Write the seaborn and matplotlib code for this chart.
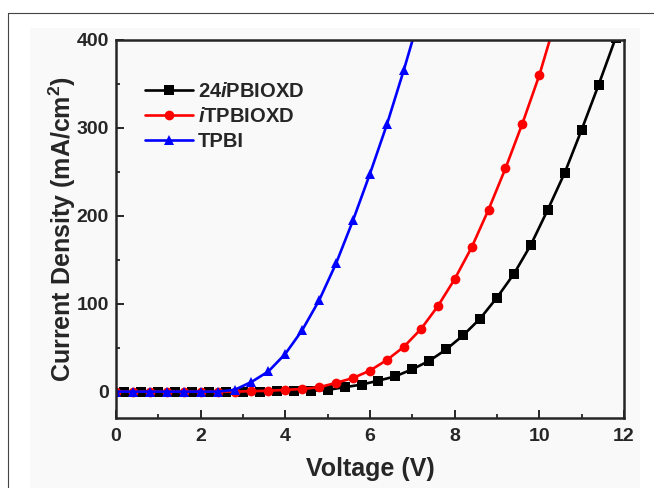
import numpy as np
import pandas as pd
import seaborn as sns
import matplotlib.pyplot as plt
from matplotlib.patches import Rectangle
from matplotlib.lines import Line2D
from matplotlib.ticker import MultipleLocator

# values
v_black = [0.2, 0.6, 1.0, 1.4, 1.8, 2.2, 2.6, 3.0, 3.4, 3.8, 4.2, 4.6, 5.0, 5.4, 5.8,
           6.2, 6.6, 7.0, 7.4, 7.8, 8.2, 8.6, 9.0, 9.4, 9.8, 10.2, 10.6, 11.0, 11.4, 11.8]
j_black = [0, 0, 0, 0, 0, 0, 0, 0, 0, 0.2, 0.5, 1, 2, 5, 8,
           12.5, 17.4, 25.5, 35, 48, 64, 83, 107, 134, 167, 207, 249, 298, 349, 402]

v_red = [0.0, 0.4, 0.8, 1.2, 1.6, 2.0, 2.4, 2.8, 3.2, 3.6, 4.0, 4.4, 4.8, 5.2, 5.6,
         6.0, 6.4, 6.8, 7.2, 7.6, 8.0, 8.4, 8.8, 9.2, 9.6, 10.0, 10.4]
j_red = [0, 0, 0, 0, 0, 0, 0, 0, 0.5, 1, 2, 3, 5, 10, 15.5,
         24, 36, 51, 71, 97, 128, 164, 207, 254, 305, 360, 425]

v_blue = [0.0, 0.4, 0.8, 1.2, 1.6, 2.0, 2.4, 2.8, 3.2, 3.6, 4.0, 4.4, 4.8, 5.2, 5.6,
          6.0, 6.4, 6.8, 7.2]
j_blue = [0, 0, 0, 0, 0, 0, 0, 2, 11, 23, 43, 70, 104, 146, 195,
          248, 304, 366, 432]

names = ["24iPBIOXD", "iTPBIOXD", "TPBI"]
labels = [r"24$\mathit{i}$PBIOXD", r"$\mathit{i}$TPBIOXD", "TPBI"]
colors = ["black", "red", "blue"]
markers = ["s", "o", "^"]

df = pd.concat([
    pd.DataFrame({"V": v_black, "J": j_black, "device": names[0]}),
    pd.DataFrame({"V": v_red, "J": j_red, "device": names[1]}),
    pd.DataFrame({"V": v_blue, "J": j_blue, "device": names[2]}),
])

sns.set_style("ticks")
plt.rcParams["font.family"] = ["Liberation Sans", "DejaVu Sans"]
plt.rcParams["font.weight"] = "bold"
plt.rcParams["mathtext.fontset"] = "custom"
plt.rcParams["mathtext.rm"] = "Liberation Sans:bold"
plt.rcParams["mathtext.it"] = "Liberation Sans:bold:italic"
plt.rcParams["mathtext.bf"] = "Liberation Sans:bold"

fig = plt.figure(figsize=(6.54, 4.88), dpi=100, facecolor="white")
# light panel and thin frame like the screenshot
fig.patches.append(Rectangle((30 / 654, 0), 610 / 654, 1 - 28 / 488, transform=fig.transFigure,
                             facecolor="#f9f9f9", edgecolor="none", zorder=-5))
fig.lines.append(Line2D([8 / 654, 8 / 654], [0, 1 - 13 / 488], transform=fig.transFigure,
                        color="#444444", lw=0.8))
fig.lines.append(Line2D([8 / 654, 1], [1 - 13 / 488, 1 - 13 / 488], transform=fig.transFigure,
                        color="#444444", lw=0.8))

ax = fig.add_axes([116 / 654, 1 - 418 / 488, 508 / 654, 378 / 488])
ax.set_facecolor("#f9f9f9")

sns.lineplot(data=df, x="V", y="J", hue="device", style="device", hue_order=names,
             style_order=names, palette=colors, markers=markers, dashes=False,
             markersize=7, markeredgewidth=0, linewidth=1.9, sort=True, ax=ax)

ax.set_xlim(0, 12)
ax.set_ylim(-30, 400)
ax.xaxis.set_major_locator(MultipleLocator(2))
ax.xaxis.set_minor_locator(MultipleLocator(1))
ax.yaxis.set_major_locator(MultipleLocator(100))
ax.yaxis.set_minor_locator(MultipleLocator(50))
ax.tick_params(which="major", direction="in", length=6, width=1.4, labelsize=14, pad=7)
ax.tick_params(axis="y", which="major", pad=5)
ax.tick_params(which="minor", direction="in", length=3, width=1.3)
for lab in ax.get_xticklabels() + ax.get_yticklabels():
    lab.set_fontweight("bold")
for sp in ax.spines.values():
    sp.set_linewidth(1.8)

ax.set_xlabel("Voltage (V)", fontsize=18, fontweight="bold", labelpad=9)
ax.set_ylabel(r"Current Density (mA/cm$^{2}$)", fontsize=18, fontweight="bold", labelpad=-1)

handles, _ = ax.get_legend_handles_labels()
leg = ax.legend(handles, labels, loc="upper left", bbox_to_anchor=(0.021, 0.937), frameon=False,
                prop={"weight": "bold", "size": 14.5}, handlelength=2.4, handletextpad=0.25,
                labelspacing=0.3)

fig.savefig("out.png", dpi=100, facecolor=fig.get_facecolor())
